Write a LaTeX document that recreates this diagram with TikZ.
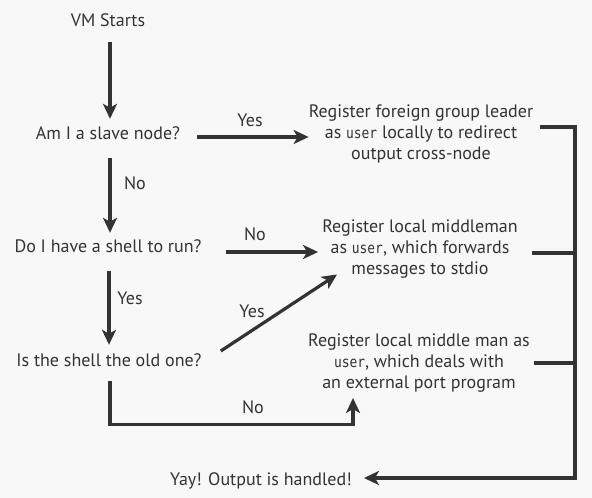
\documentclass[tikz,border=0pt]{standalone}
\usepackage{fontspec}
\setmainfont{PT Sans}
\newfontfamily\monofnt[FakeStretch=0.86]{DejaVu Sans Mono}
\usetikzlibrary{arrows.meta}
\definecolor{ink}{HTML}{333333}
\definecolor{bg}{HTML}{F8F8F8}
\newcommand\usrcode[1]{{\monofnt\fontsize{15}{21}\selectfont #1}}
\tikzset{
  basetxt/.style={font=\fontsize{18}{21}\selectfont, text=ink, align=center, inner sep=0pt},
  txt/.style={basetxt, text height=13pt, text depth=4pt},
  mtxt/.style={basetxt},
  lbl/.style={txt},
  flow/.style={draw=ink, line width=3.2pt, line join=miter},
  arr/.style={flow, -{Stealth[length=15pt, width=14pt, inset=4pt]}}
}
\begin{document}
\begin{tikzpicture}[x=1pt, y=-1pt]
\fill[bg] (0,0) rectangle (592,498);
\useasboundingbox (0,0) rectangle (592,498);

\node[txt] (start) at (108,22) {VM Starts};
\node[txt] (q1) at (108,135) {Am I a slave node?};
\node[txt] (q2) at (108,248) {Do I have a shell to run?};
\node[txt] (q3) at (109,362) {Is the shell the old one?};
\node[mtxt] (r1) at (421,134) {Register foreign group leader\\as \usrcode{user} locally to redirect\\output cross-node};
\node[mtxt] (r2) at (420,249) {Register local middleman\\as \usrcode{user}, which forwards\\messages to stdio};
\node[mtxt] (r3) at (419,363) {Register local middle man as\\\usrcode{user}, which deals with\\an external port program};
\node[txt] (done) at (261,481) {Yay! Output is handled!};

\coordinate (bt) at (575,127);
\coordinate (bb) at (575,478);

% vertical flow
\draw[arr] ([xshift=2pt,yshift=-11.5pt]start.south) -- ([xshift=2pt,yshift=7.5pt]q1.north);
\draw[arr] ([xshift=2pt,yshift=-14.5pt]q1.south) -- ([xshift=2pt,yshift=6.5pt]q2.north);
\draw[arr] ([xshift=1pt,yshift=-14.5pt]q2.south) -- ([xshift=0pt,yshift=8.5pt]q3.north);

% horizontal
\draw[arr] ([xshift=17pt,yshift=-2pt]q1.east) -- ([yshift=-2pt]q1.east -| r1.west);
\draw[arr] ([xshift=24pt,yshift=-4pt]q2.east) -- ([xshift=-4pt,yshift=-4pt]q2.east -| r2.west);
\draw[arr] ([xshift=19pt,yshift=11pt]q3.east) -- ([xshift=15pt,yshift=4pt]r2.south west);
\draw[arr] ([xshift=1pt,yshift=-10.5pt]q3.south) -- ++(0,43) -| ([xshift=-66pt,yshift=-5.5pt]r3.south);

% collecting bus
\draw[arr] ([xshift=6.5pt,yshift=7pt]r1.east) -- (bt) -- (bb) -- ([xshift=12pt,yshift=3pt]done.east);
\draw[flow] ([xshift=14pt,yshift=-4pt]r2.east) -- ([yshift=-4pt]r2.east -| bt);
\draw[flow] ([xshift=4pt]r3.east) -- (r3.east -| bt);

% labels
\node[lbl] (l1) at (250,122) {Yes};
\node[lbl] (l2) at (135,185) {No};
\node[lbl] (l3) at (255,236) {No};
\node[lbl] (l4) at (130,300) {Yes};
\node[lbl] (l5) at (252,313) {Yes};
\node[lbl] (l6) at (253,409) {No};
\end{tikzpicture}
\end{document}
